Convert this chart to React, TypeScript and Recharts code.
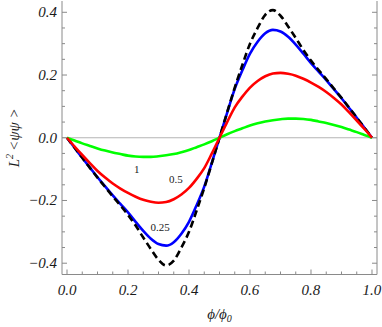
import { LineChart, Line, XAxis, YAxis, ReferenceLine, ReferenceDot, Label } from 'recharts'

// phi / phi0, step 0.025
const phi = [
  0, 0.025, 0.05, 0.075, 0.1, 0.125, 0.15, 0.175, 0.2, 0.225, 0.25, 0.275, 0.3, 0.325, 0.35, 0.375, 0.4, 0.425, 0.45, 0.475,
  0.5, 0.525, 0.55, 0.575, 0.6, 0.625, 0.65, 0.675, 0.7, 0.725, 0.75, 0.775, 0.8, 0.825, 0.85, 0.875, 0.9, 0.925, 0.95, 0.975, 1,
]

// L^2 <psi psi> for each parameter (dashed = limit curve)
const limitCurve = [
  0, -0.032, -0.064, -0.096, -0.127, -0.157, -0.187, -0.216, -0.246, -0.28, -0.318, -0.355, -0.389, -0.407, -0.392, -0.35, -0.3, -0.232, -0.16, -0.081,
  0, 0.081, 0.16, 0.232, 0.3, 0.35, 0.392, 0.407, 0.389, 0.355, 0.318, 0.28, 0.246, 0.216, 0.187, 0.157, 0.127, 0.096, 0.064, 0.032, 0,
]
const curve025 = [
  0, -0.032, -0.064, -0.095, -0.126, -0.155, -0.184, -0.211, -0.238, -0.268, -0.297, -0.322, -0.339, -0.344, -0.333, -0.306, -0.268, -0.215, -0.156, -0.079,
  0, 0.079, 0.156, 0.215, 0.268, 0.306, 0.333, 0.344, 0.339, 0.322, 0.297, 0.268, 0.238, 0.211, 0.184, 0.155, 0.126, 0.095, 0.064, 0.032, 0,
]
const curve05 = [
  0, -0.028, -0.055, -0.081, -0.106, -0.127, -0.146, -0.162, -0.176, -0.188, -0.198, -0.204, -0.207, -0.205, -0.196, -0.181, -0.16, -0.131, -0.097, -0.05,
  0, 0.05, 0.097, 0.131, 0.16, 0.181, 0.196, 0.205, 0.207, 0.204, 0.198, 0.188, 0.176, 0.162, 0.146, 0.127, 0.106, 0.081, 0.055, 0.028, 0,
]
const curve1 = [
  0, -0.009, -0.018, -0.026, -0.034, -0.041, -0.047, -0.052, -0.057, -0.06, -0.061, -0.061, -0.059, -0.056, -0.052, -0.046, -0.039, -0.03, -0.021, -0.011,
  0, 0.011, 0.021, 0.03, 0.039, 0.046, 0.052, 0.056, 0.059, 0.061, 0.061, 0.06, 0.057, 0.052, 0.047, 0.041, 0.034, 0.026, 0.018, 0.009, 0,
]

const xTicks = [0, 0.05, 0.1, 0.15, 0.2, 0.25, 0.3, 0.35, 0.4, 0.45, 0.5, 0.55, 0.6, 0.65, 0.7, 0.75, 0.8, 0.85, 0.9, 0.95, 1]
const yTicks = [-0.4, -0.35, -0.3, -0.25, -0.2, -0.15, -0.1, -0.05, 0, 0.05, 0.1, 0.15, 0.2, 0.25, 0.3, 0.35, 0.4]

const curveLabels = [
  { text: '1', x: 0.2285, y: -0.1 },
  { text: '0.5', x: 0.357, y: -0.133 },
  { text: '0.25', x: 0.305, y: -0.284 },
]

const data = phi.map((p, i) => ({
  phi: p,
  limit: limitCurve[i],
  c025: curve025[i],
  c05: curve05[i],
  c1: curve1[i],
}))

const FRAME = '#8a8a8a'
const SERIF = '"Liberation Serif", "Times New Roman", serif'

const isMajor = (v: number) => Math.abs(v / 0.2 - Math.round(v / 0.2)) < 1e-6
const fmt = (v: number) => {
  const s = Math.abs(v).toFixed(1)
  return v < -1e-9 ? '\u2212' + s : s
}

function BottomTick(props: any) {
  const { x, y, payload } = props
  const major = isMajor(payload.value)
  return (
    <g>
      <line x1={x} x2={x} y1={y} y2={y - (major ? 5 : 3)} stroke={FRAME} />
      {major && (
        <text x={x} y={y + 20.5} textAnchor="middle" fontFamily={SERIF} fontStyle="italic" fontSize={15} fill="#1a1a1a">
          {fmt(payload.value)}
        </text>
      )}
    </g>
  )
}

function TopTick(props: any) {
  const { x, y, payload } = props
  const major = isMajor(payload.value)
  return <line x1={x} x2={x} y1={y} y2={y + (major ? 5 : 3)} stroke={FRAME} />
}

function LeftTick(props: any) {
  const { x, y, payload } = props
  const major = isMajor(payload.value)
  return (
    <g>
      <line x1={x} x2={x + (major ? 5 : 3)} y1={y} y2={y} stroke={FRAME} />
      {major && (
        <text x={x - 5} y={y + 5} textAnchor="end" fontFamily={SERIF} fontStyle="italic" fontSize={15} fill="#1a1a1a">
          {fmt(payload.value)}
        </text>
      )}
    </g>
  )
}

function RightTick(props: any) {
  const { x, y, payload } = props
  const major = isMajor(payload.value)
  return <line x1={x} x2={x - (major ? 5 : 3)} y1={y} y2={y} stroke={FRAME} />
}

function XTitle(props: any) {
  const vb = props.viewBox
  const cx = vb.x + vb.width / 2
  return (
    <text x={cx} y={319} textAnchor="middle" fontFamily={SERIF} fontStyle="italic" fontSize={15} fill="#1a1a1a">
      <tspan>ϕ/ϕ</tspan>
      <tspan fontSize={10} dy={3}>0</tspan>
    </text>
  )
}

function YTitle(props: any) {
  const vb = props.viewBox
  const cx = 19
  const cy = vb.y + vb.height / 2
  return (
    <text
      x={cx}
      y={cy}
      transform={`rotate(-90 ${cx} ${cy})`}
      textAnchor="middle"
      fontFamily={SERIF}
      fontStyle="italic"
      fontSize={15}
      fill="#1a1a1a"
    >
      <tspan>L</tspan>
      <tspan fontSize={10} dy={-6}>2</tspan>
      <tspan dy={6}>{'\u2009<ψψ >'}</tspan>
    </text>
  )
}

export default function App() {
  return (
    <div style={{ position: 'absolute', left: 0, top: 0, width: 382, height: 327, background: '#fff' }}>
      <LineChart width={382} height={327} data={data} margin={{ top: 1, right: 0, bottom: 0, left: 0 }}>
        <XAxis
          dataKey="phi"
          type="number"
          domain={[-0.0164, 1.0164]}
          allowDataOverflow
          ticks={xTicks}
          interval={0}
          tickSize={0}
          tickMargin={0}
          height={52.5}
          axisLine={{ stroke: FRAME }}
          tick={<BottomTick />}
        >
          <Label content={<XTitle />} />
        </XAxis>
        <XAxis
          xAxisId="top"
          orientation="top"
          dataKey="phi"
          type="number"
          domain={[-0.0164, 1.0164]}
          allowDataOverflow
          ticks={xTicks}
          interval={0}
          tickSize={0}
          tickMargin={0}
          height={0}
          axisLine={{ stroke: FRAME }}
          tick={<TopTick />}
        />
        <YAxis
          type="number"
          domain={[-0.436, 0.436]}
          allowDataOverflow
          ticks={yTicks}
          interval={0}
          tickSize={0}
          tickMargin={0}
          width={62}
          axisLine={{ stroke: FRAME }}
          tick={<LeftTick />}
        >
          <Label content={<YTitle />} />
        </YAxis>
        <YAxis
          yAxisId="right"
          orientation="right"
          type="number"
          domain={[-0.436, 0.436]}
          allowDataOverflow
          ticks={yTicks}
          interval={0}
          tickSize={0}
          tickMargin={0}
          width={5}
          axisLine={{ stroke: FRAME }}
          tick={<RightTick />}
        />
        <ReferenceLine y={0} stroke="#b4b4b4" strokeWidth={1} />
        <Line type="monotone" dataKey="c025" stroke="#0000ff" strokeWidth={2.6} dot={false} isAnimationActive={false} />
        <Line type="monotone" dataKey="limit" stroke="#000000" strokeWidth={2.6} strokeDasharray="7 4" dot={false} isAnimationActive={false} />
        <Line type="monotone" dataKey="c1" stroke="#00ff00" strokeWidth={2.6} dot={false} isAnimationActive={false} />
        <Line type="monotone" dataKey="c05" stroke="#ff0000" strokeWidth={2.6} dot={false} isAnimationActive={false} />
        {curveLabels.map((l) => (
          <ReferenceDot
            key={l.text}
            x={l.x}
            y={l.y}
            r={0}
            fill="none"
            stroke="none"
            label={{ value: l.text, position: 'center', fontFamily: SERIF, fontSize: 11, fill: '#1a1a1a' }}
          />
        ))}
      </LineChart>
    </div>
  )
}
